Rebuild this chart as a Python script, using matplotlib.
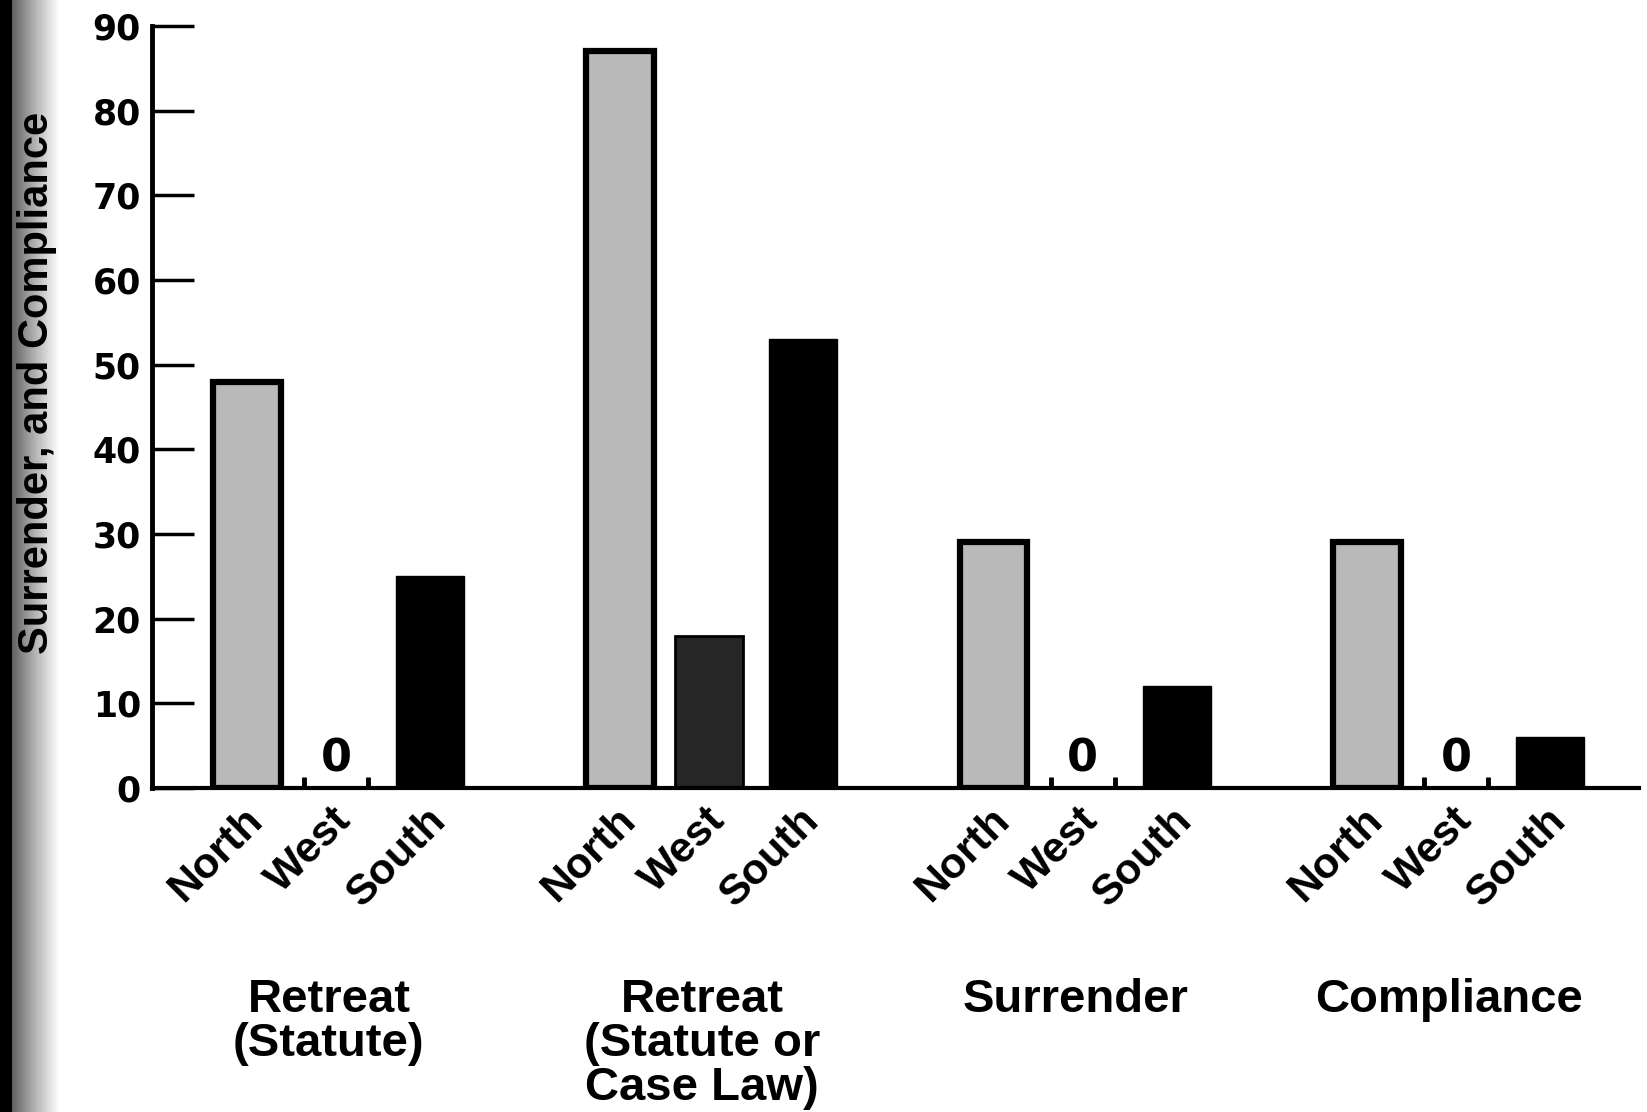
import numpy as np
import matplotlib
matplotlib.use("Agg")
import matplotlib.pyplot as plt
import matplotlib as mpl
mpl.rcParams["font.family"] = ["Liberation Sans", "DejaVu Sans"]
mpl.rcParams["font.weight"] = "bold"

# values (percent)
groups = ["Retreat\n(Statute)", "Retreat\n(Statute or\nCase Law)", "Surrender", "Compliance"]
regions = ["North", "West", "South"]
north = [48, 87, 29, 29]
west = [0, 18, 0, 0]
south = [25, 53, 12, 6]
yticks = [0, 10, 20, 30, 40, 50, 60, 70, 80, 90]
ylabel = "Surrender, and Compliance"

fig = plt.figure(figsize=(16.47, 11.12), dpi=100)

# dark scan shadow on the left edge
bg = fig.add_axes([0, 0, 0.036, 1], zorder=0)
grad = np.concatenate([np.zeros(12), np.linspace(0.3, 1.0, 48) ** 0.8])
bg.imshow(np.tile(grad, (10, 1)), cmap="gray", aspect="auto", vmin=0, vmax=1)
bg.axis("off")

ax = fig.add_axes([0.0923, 0.2914, 0.903, 0.6852], zorder=1)
ax.patch.set_alpha(0)

step = 4.18
offs = [0, 1.0, 2.05]
base = np.arange(len(groups)) * step
w = 0.76

ax.bar(base + offs[0], north, width=w, color="#b9b9b9", edgecolor="black", linewidth=4.5, zorder=2)
# west bars: draw only the non-zero one as a bar, mark zeros with a label
wx = base + offs[1]
wv = np.array(west)
nz = wv > 0
ax.bar(wx[nz], wv[nz], width=w, color="#262626", edgecolor="black", linewidth=2, zorder=2)
for x, v in zip(wx, wv):
    if v == 0:
        ax.vlines([x - 0.36, x + 0.36], 0, 1.3, color="black", linewidth=3.5, zorder=3)
        ax.text(x, 0.9, "0", ha="center", va="bottom", fontsize=32, fontweight="bold",
                family="DejaVu Sans")
ax.bar(base + offs[2], south, width=w, color="black", edgecolor="black", linewidth=1, zorder=2)

ax.set_xlim(-1.06, 15.59)
ax.set_ylim(0, 90)
ax.set_yticks(yticks)
ax.set_yticklabels([str(t) for t in yticks], fontsize=25, fontweight="bold", family="DejaVu Sans")
ax.tick_params(axis="y", direction="in", length=30, width=2.5, pad=8)
ax.set_xticks([])
for s in ["top", "right"]:
    ax.spines[s].set_visible(False)
ax.spines["left"].set_linewidth(3.5)
ax.spines["bottom"].set_linewidth(3)

# region labels under each bar
xt = ax.get_xaxis_transform()
for b in base:
    for o, r in zip(offs, regions):
        ax.text(b + o - 0.05, -0.016, r, transform=xt, rotation=45, rotation_mode="anchor",
                ha="right", va="top", fontsize=31, fontweight="bold")

# group labels
for b, g in zip(base, groups):
    ax.text(b + 0.92, -0.25, g, transform=xt, ha="center", va="top",
            fontsize=34, fontweight="bold", linespacing=1.0)

fig.text(0.0225, 0.656, ylabel, rotation=90, ha="center", va="center",
         fontsize=30, fontweight="bold", zorder=5)

fig.savefig("out.png", dpi=100)
